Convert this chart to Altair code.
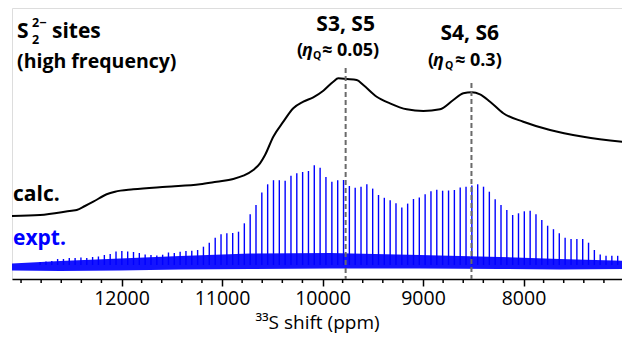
import altair as alt
import pandas as pd

# ---------------- data ----------------
# experimental spikelet positions (ppm) and spike top intensities (arb. units)
spike_ppm = [12810, 12752, 12694, 12636, 12578, 12520, 12462, 12404, 12346, 12288,
             12230, 12171, 12113, 12055, 11997, 11939, 11881, 11823, 11765, 11707,
             11649, 11591, 11533, 11475, 11417, 11359, 11301, 11243, 11185, 11127,
             11068, 11010, 10952, 10894, 10836, 10778, 10720, 10662, 10604, 10546,
             10488, 10430, 10372, 10314, 10256, 10198, 10140, 10082, 10024, 9966,
             9907, 9849, 9791, 9733, 9675, 9617, 9559, 9501, 9443, 9385,
             9327, 9269, 9211, 9153, 9095, 9037, 8979, 8921, 8863, 8805,
             8746, 8688, 8630, 8572, 8514, 8456, 8398, 8340, 8282, 8224,
             8166, 8108, 8050, 7992, 7934, 7876, 7818, 7760, 7702, 7644,
             7586, 7527, 7469, 7411, 7353, 7295, 7237, 7179, 7121, 7063,
             7005, 6947]
spike_top = [17, 17.5, 18, 20, 20, 21, 21, 21.5, 21, 22,
             22.5, 24, 25, 27.5, 28, 27.5, 27, 26, 24.5, 24,
             23.5, 24.3, 26.5, 26, 27.3, 28, 28.3, 29, 32.3, 36.3,
             41.3, 44.7, 45.7, 46, 47.3, 55.7, 64.8, 74, 86.5, 94.7,
             98.8, 98.8, 98.2, 103.3, 105.7, 107, 108, 113.8, 111.2, 102,
             97.2, 98.7, 99, 93, 91.2, 92.2, 94.8, 90.4, 84, 81.2,
             78.7, 75.7, 71.5, 75.4, 80, 81.5, 84.7, 87.8, 89.2, 88.3,
             88.5, 89, 91.5, 92.3, 93.5, 94.7, 92.3, 87.3, 79.7, 74,
             69, 64, 65.7, 67.7, 68.3, 64.8, 59, 53.3, 49.8, 45.7,
             41.3, 40, 40, 40, 36.3, 29, 24.5, 23.3, 23.2, 23.2,
             23.2, 23.2]
spike_base = 14

# experimental noise band (upper / lower edge)
noise_ppm = [13090, 12612, 12015, 11418, 10722, 9926, 9030, 8234, 7637, 6920]
noise_hi = [15.5, 18, 20.5, 23, 25.5, 26, 24, 22, 20, 18]
noise_lo = [8.5, 8, 8.5, 9.5, 10, 10.5, 10.5, 10, 9.5, 10]

# calculated spectrum
calc_ppm = [13090, 12811, 12496, 12446, 12364, 12281, 12148, 12065, 11883, 11551,
            11219, 11053, 10888, 10788, 10689, 10622, 10572, 10490, 10390, 10291,
            10191, 10092, 9992, 9893, 9843, 9759, 9660, 9594, 9461, 9329,
            9162, 8997, 8831, 8699, 8599, 8515, 8433, 8333, 8201, 8002,
            7736, 7405, 6920]
calc_val = [63, 64, 68.3, 69, 73, 77.3, 84.7, 87.3, 89.7, 92.3,
            94.7, 97.3, 100, 103.3, 109, 115.7, 124, 142.3, 157.3, 170.7,
            177.3, 181.7, 188.3, 197.3, 200.7, 200, 199, 194, 182.3, 175.7,
            169.7, 168, 169.7, 179, 185.7, 186.7, 184.7, 177.3, 165.7, 157.3,
            149, 142.3, 136.3]

# site markers
marker_ppm = [9770, 8518]
marker_top = [211, 196]

# axis ticks
major_ticks = [12000, 11000, 10000, 9000, 8000]
minor_ticks = [13000, 12800, 12600, 12400, 12200, 11800, 11600, 11400, 11200,
               10800, 10600, 10400, 10200, 9800, 9600, 9400, 9200,
               8800, 8600, 8400, 8200, 7800, 7600, 7400, 7200]

# ---------------- chart ----------------
XDOM = [13090, 7020]
xscale = alt.Scale(domain=XDOM, nice=False, zero=False)
yscale = alt.Scale(domain=[0, 271], nice=False, zero=False)
xaxis = alt.Axis(values=major_ticks, format="d", grid=False, tickSize=7, tickWidth=1.5,
                 tickColor="black", domainColor="black", domainWidth=1.5,
                 labelFontSize=19.5, labelColor="black", labelPadding=3,
                 title="³³S shift (ppm)", titleFontSize=19, titleFontWeight="normal",
                 titleColor="black", titlePadding=6)


def X(field):
    return alt.X(field, type="quantitative", scale=xscale, axis=xaxis)


def Y(field):
    return alt.Y(field, type="quantitative", scale=yscale, axis=None)


BLUE = "#0000ff"

noise = alt.Chart(pd.DataFrame({"x": noise_ppm, "hi": noise_hi, "lo": noise_lo})).mark_area(
    color=BLUE, opacity=0.92, clip=True).encode(x=X("x"), y=Y("hi"), y2="lo")

spikes = alt.Chart(pd.DataFrame({"x": spike_ppm, "top": spike_top,
                                 "base": [spike_base] * len(spike_ppm)})).mark_rule(
    color=BLUE, strokeWidth=1.4, clip=True).encode(x=X("x"), y=Y("top"), y2="base")

calc = alt.Chart(pd.DataFrame({"x": calc_ppm, "v": calc_val})).mark_line(
    color="black", strokeWidth=2, interpolate="monotone", clip=True).encode(x=X("x"), y=Y("v"))

markers = alt.Chart(pd.DataFrame({"x": marker_ppm, "top": marker_top,
                                  "base": [0, 0]})).mark_rule(
    color="#6a6a6a", strokeWidth=2, strokeDash=[5, 3]).encode(x=X("x"), y=Y("top"), y2="base")

minor = alt.Chart(pd.DataFrame({"x": minor_ticks, "a": [0] * len(minor_ticks),
                                "b": [-4] * len(minor_ticks)})).mark_rule(
    color="black", strokeWidth=1.5).encode(x=X("x"), y=Y("a"), y2="b")


def txt(rows, size, weight="bold", style="normal", color="black", align="left"):
    df = pd.DataFrame(rows, columns=["t", "x", "y"])
    return alt.Chart(df).mark_text(fontSize=size, fontWeight=weight, fontStyle=style,
                                   color=color, align=align, baseline="alphabetic").encode(
        x=X("x"), y=Y("y"), text="t:N")


texts = [
    txt([["S", 13040, 241], ["sites", 12692, 241]], 21),
    txt([["2", 12891, 235]], 12.5),
    txt([["2−", 12891, 252]], 12.5),
    txt([["(high frequency)", 13040, 211]], 19.5),
    txt([["S3, S5", 9770, 248], ["S4, S6", 8535, 239]], 21, align="center"),
    txt([["(", 10254, 223], ["≈ 0.05)", 10005, 223],
         ["(", 8950, 213], ["≈ 0.3)", 8682, 213]], 18),
    txt([["η", 10204, 223], ["η", 8901, 213]], 18, style="italic"),
    txt([["Q", 10095, 220], ["Q", 8781, 210]], 10.5),
    txt([["calc.", 13080, 78]], 21),
    txt([["expt.", 13080, 34]], 21, color=BLUE),
]

chart = alt.layer(noise, spikes, calc, markers, minor, *texts).properties(
    width=610, height=271,
    padding={"left": 4, "top": 0, "right": 0, "bottom": 4},
).configure_view(stroke=None).configure(font="Open Sans")

chart.save("out.html", embed_options={"renderer": "svg", "actions": False})
